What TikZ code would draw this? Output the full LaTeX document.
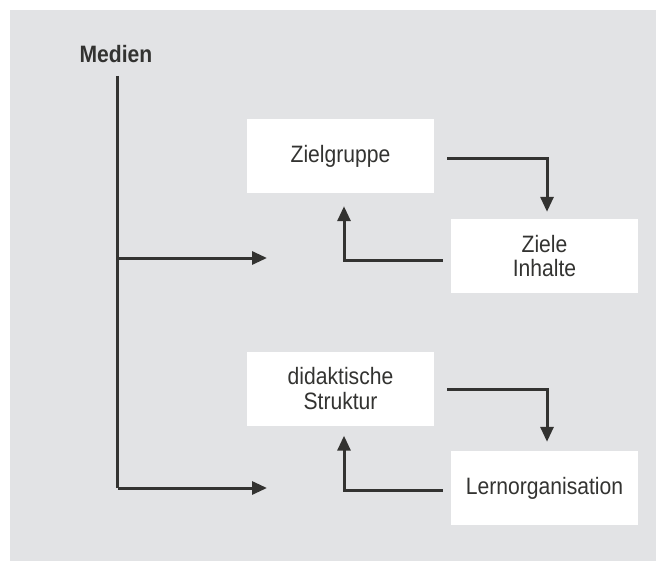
\documentclass[tikz,border=0pt]{standalone}
\usepackage{fontspec}
\setmainfont{Liberation Sans}[FakeStretch=0.89]
\usetikzlibrary{arrows.meta}
\definecolor{panel}{HTML}{E2E3E5}
\definecolor{ink}{HTML}{333331}
\begin{document}
\begin{tikzpicture}[x=1bp,y={(0bp,-1bp)},
  box/.style={fill=white, minimum width=187bp, minimum height=74bp,
    inner sep=0pt, align=center, text=ink,
    font=\fontsize{23.8pt}{25pt}\selectfont},
  link/.style={draw=ink, line width=3bp, line join=miter,
    -{Triangle[length=15bp,width=13bp]}},
  trunk/.style={draw=ink, line width=3bp}]
  \useasboundingbox (0,0) rectangle (656,561);
  \fill[panel] (10,10) rectangle (656,561);

  % heading and the two branch targets
  \node[text=ink, font=\bfseries\fontsize{23.8pt}{25pt}\selectfont] (medien) at (116,54) {Medien};
  \coordinate (trunktop) at (117.5,76);
  \coordinate (fork1) at (117.5,258);
  \coordinate (fork2) at (117.5,488);
  \coordinate (tip1) at (267,258);
  \coordinate (tip2) at (267,488);

  % upper group
  \node[box] (zg) at (340.5,156) {Zielgruppe};
  \node[box] (zi) at (544.5,256) {Ziele\\Inhalte};
  % lower group
  \node[box] (ds) at (340.5,388.5) {didaktische\\Struktur};
  \node[box] (lo) at (544.5,488) {Lernorganisation};

  % trunk with branches
  \draw[trunk] (trunktop) -- (fork2);
  \draw[link] (fork1) -- (tip1);
  \draw[link] (fork2) -- (tip2);

  % cycles
  \draw[link] ([xshift=13bp,yshift=-3bp]zg.east) -| ([xshift=2.5bp,yshift=7bp]zi.north);
  \draw[link] ([xshift=-8bp,yshift=-4bp]zi.west) -| ([xshift=3.5bp,yshift=-13bp]zg.south);
  \draw[link] ([xshift=13bp,yshift=-0.5bp]ds.east) -| ([xshift=2.5bp,yshift=9bp]lo.north);
  \draw[link] ([xshift=-8bp,yshift=-2bp]lo.west) -| ([xshift=3.5bp,yshift=-10bp]ds.south);
\end{tikzpicture}
\end{document}
